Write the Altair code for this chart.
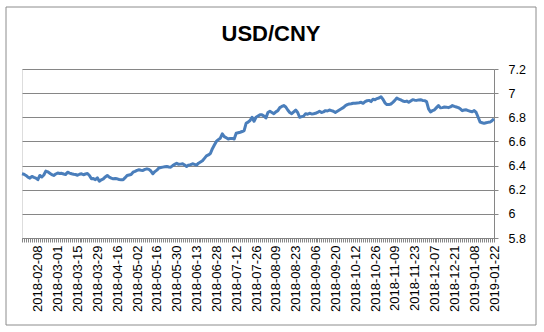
import json
import altair as alt
import pandas as pd

# Trading-day calendar (Chinese market holidays removed)
holidays = ["2018-02-15", "2018-02-16", "2018-02-19", "2018-02-20", "2018-02-21",
            "2018-04-05", "2018-04-06", "2018-04-30", "2018-05-01", "2018-06-18",
            "2018-09-24", "2018-10-01", "2018-10-02", "2018-10-03", "2018-10-04",
            "2018-10-05", "2018-12-31", "2019-01-01"]
dates = [d.strftime("%Y-%m-%d") for d in pd.bdate_range("2018-01-29", "2019-01-22")
         if d.strftime("%Y-%m-%d") not in holidays]

# USD/CNY values
rate = [
    6.332, 6.328, 6.318, 6.304, 6.296, 6.310, 6.302, 6.296, 6.283, 6.318,
    6.305, 6.322, 6.354, 6.348, 6.337, 6.325, 6.318, 6.330, 6.338, 6.334,
    6.336, 6.330, 6.326, 6.345, 6.338, 6.332, 6.328, 6.326, 6.320, 6.328,
    6.332, 6.324, 6.330, 6.334, 6.318, 6.290, 6.292, 6.283, 6.298, 6.270,
    6.282, 6.290, 6.306, 6.318, 6.304, 6.296, 6.290, 6.292, 6.290, 6.285,
    6.283, 6.283, 6.300, 6.318, 6.322, 6.326, 6.345, 6.352, 6.360, 6.365,
    6.362, 6.360, 6.368, 6.373, 6.368, 6.355, 6.332, 6.350, 6.362, 6.380,
    6.384, 6.387, 6.390, 6.393, 6.388, 6.387, 6.400, 6.410, 6.420, 6.410,
    6.412, 6.415, 6.405, 6.393, 6.404, 6.408, 6.415, 6.410, 6.404, 6.420,
    6.430, 6.440, 6.460, 6.480, 6.488, 6.500, 6.540, 6.570, 6.600, 6.615,
    6.627, 6.663, 6.640, 6.630, 6.620, 6.625, 6.625, 6.620, 6.668, 6.672,
    6.676, 6.682, 6.690, 6.750, 6.760, 6.773, 6.800, 6.767, 6.800, 6.810,
    6.820, 6.820, 6.810, 6.795, 6.840, 6.850, 6.840, 6.830, 6.845, 6.855,
    6.880, 6.890, 6.897, 6.885, 6.860, 6.840, 6.830, 6.845, 6.860, 6.840,
    6.800, 6.805, 6.810, 6.830, 6.825, 6.833, 6.828, 6.830, 6.833, 6.840,
    6.850, 6.840, 6.845, 6.855, 6.852, 6.860, 6.855, 6.850, 6.840, 6.850,
    6.860, 6.870, 6.880, 6.895, 6.905, 6.910, 6.912, 6.916, 6.916, 6.918,
    6.920, 6.924, 6.916, 6.930, 6.937, 6.940, 6.930, 6.950, 6.945, 6.955,
    6.960, 6.970, 6.950, 6.920, 6.905, 6.905, 6.910, 6.924, 6.940, 6.960,
    6.950, 6.944, 6.935, 6.930, 6.934, 6.924, 6.935, 6.946, 6.942, 6.940,
    6.944, 6.945, 6.940, 6.938, 6.930, 6.870, 6.845, 6.855, 6.862, 6.880,
    6.897, 6.878, 6.880, 6.885, 6.884, 6.880, 6.886, 6.897, 6.890, 6.885,
    6.880, 6.870, 6.855, 6.860, 6.862, 6.855, 6.850, 6.846, 6.855, 6.840,
    6.800, 6.760, 6.755, 6.750, 6.755, 6.758, 6.760, 6.772, 6.787,
]

x_labels = ["2018-02-08", "2018-03-01", "2018-03-15", "2018-03-29", "2018-04-16",
            "2018-05-02", "2018-05-16", "2018-05-30", "2018-06-13", "2018-06-28",
            "2018-07-12", "2018-07-26", "2018-08-09", "2018-08-23", "2018-09-06",
            "2018-09-20", "2018-10-12", "2018-10-26", "2018-11-09", "2018-11-23",
            "2018-12-07", "2018-12-21", "2019-01-08", "2019-01-22"]
y_ticks = [5.8, 6.0, 6.2, 6.4, 6.6, 6.8, 7.0, 7.2]

n = min(len(dates), len(rate))
df = pd.DataFrame({"date": dates[:n], "rate": rate[:n]})

GRID = "#868686"
FONT = "Liberation Sans"

label_expr = "indexof(" + json.dumps(x_labels) + ", datum.value) >= 0 ? datum.value : ''"

line = alt.Chart(df).mark_line(color="#4A7EBB", strokeWidth=3, strokeJoin="round").encode(
    x=alt.X("date:O", sort=None, title=None,
            scale=alt.Scale(type="point", padding=0),
            axis=alt.Axis(labelExpr=label_expr, labelAngle=270, labelOverlap=False,
                          labelFontSize=13, labelColor="black", labelFont=FONT,
                          labelPadding=3, tickSize=4, tickColor=GRID, domainColor=GRID,
                          grid=False)),
    y=alt.Y("rate:Q", title=None,
            scale=alt.Scale(domain=[5.8, 7.2], nice=False, zero=False),
            axis=alt.Axis(orient="right", values=y_ticks, format="~g",
                          labelFontSize=12.5, labelColor="black", labelFont=FONT,
                          labelPadding=10, tickSize=4, tickColor=GRID,
                          domainColor=GRID, grid=True, gridColor=GRID)),
)

border = alt.Chart(alt.Data(values=[{}])).mark_rect(
    filled=False, stroke="#8c8c8c", strokeWidth=1
).encode(x=alt.value(-16), x2=alt.value(514), y=alt.value(-62), y2=alt.value(256))

chart = alt.layer(border, line).properties(
    width=472, height=169,
    autosize=alt.AutoSizeParams(type="none"),
    padding={"left": 22, "top": 69, "right": 50, "bottom": 94},
    title=alt.Title("USD/CNY", fontSize=22, font=FONT, fontWeight="bold",
                    color="black", anchor="middle", offset=0, dy=56, dx=13,
                    baseline="alphabetic"),
).configure_view(stroke=None).configure(background="white")

chart.save("out.html", embed_options={"renderer": "svg", "actions": False})
